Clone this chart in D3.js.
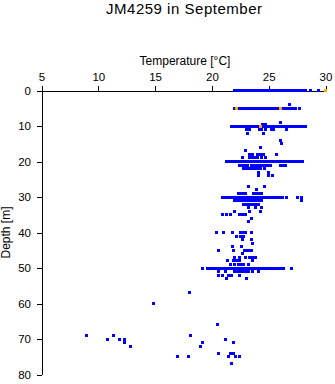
<!DOCTYPE html>
<html>
<head>
<meta charset="utf-8">
<script src="https://cdn.jsdelivr.net/npm/d3@7"></script>
<style>
  html, body { margin: 0; padding: 0; background: #fff; }
  svg { display: block; }
  text { font-family: "Liberation Sans", Arial, Helvetica, sans-serif; fill: #000; }
</style>
</head>
<body>
<div id="chart"></div>
<script>
// ---- data ----
const titleText = "JM4259 in September";
const xLabel = "Temperature [°C]";
const yLabel = "Depth [m]";
const xTicks = [5, 10, 15, 20, 25, 30];
const yTicks = [0, 10, 20, 30, 40, 50, 60, 70, 80];

// dense sampling rows (depth, temperatures read along each row)
const rowDepths = [0, 5, 10, 20, 30, 50];
const rowTemps = [
  [22.0,22.25,22.5,22.75,23.0,23.25,23.5,23.75,24.0,24.25,24.5,24.75,25.0,25.25,25.5,25.75,26.0,26.25,26.5,26.75,27.0,27.25,27.5,27.75,28.0,28.25,28.7,29.4],
  [22.0,22.25,22.5,22.75,23.0,23.25,23.5,23.75,24.0,24.25,24.5,24.75,25.0,25.25,25.5,25.75,26.0,26.25,26.5,26.75,27.0,27.25,27.4,27.7],
  [21.7,21.95,22.2,22.45,22.7,22.95,23.2,23.45,23.7,23.95,24.2,24.45,24.7,24.95,25.2,25.45,25.7,25.95,26.2,26.45,26.7,26.8,27.0,27.2,27.4,27.6,27.85,28.1,28.2],
  [21.3,21.55,21.8,22.05,22.3,22.55,22.8,23.05,23.3,23.55,23.8,24.05,24.3,24.55,24.8,25.05,25.3,25.55,25.8,26.05,26.3,26.55,26.8,27.05,27.3,27.4,27.6,27.85,28.0],
  [20.9,21.15,21.4,21.65,21.9,22.15,22.4,22.65,22.9,23.15,23.4,23.65,23.9,24.15,24.4,24.65,24.9,25.15,25.4,25.65,25.9,26.15,26.2,26.55,27.5,27.85],
  [19.2,19.6,19.85,20.1,20.35,20.6,20.8,21.05,21.3,21.55,21.8,22.05,22.3,22.55,22.8,23.05,23.3,23.55,23.8,24.05,24.3,24.55,24.8,25.05,25.3,25.55,25.8,26.05,26.3,27.0]
];

// scattered samples [temperature, depth]
const scatterPoints = [
  [26.8,4],
  [26.0,9],[24.45,9.5],[24.7,9.5],
  [23.05,11],[23.3,11],[24.15,11],[24.35,11],[24.7,11],[25.25,11],[25.45,11],[26.55,11],
  [23.1,12],[24.5,12],
  [26.0,14],[26.1,15],[24.3,16],[23.0,17],
  [23.3,18],[23.6,18],[24.0,18],[24.25,18],[24.5,18],[25.7,18],
  [22.7,19],[23.3,19],[23.55,19],[23.8,19],[24.05,19],[24.35,19],[24.75,19],
  [22.4,21],[22.65,21],[22.9,21],[23.1,21],[23.5,21],[23.75,21],[24.0,21],[24.25,21],[24.5,21],[24.75,21],[25.0,21],[25.2,21],[26.0,21],[26.25,21],[26.5,21],
  [22.8,22],[23.05,22],[23.3,22],[23.55,22],[23.8,22],[24.05,22],[24.3,22],[24.6,22],
  [24.1,23],[25.0,23],
  [24.1,24],[25.0,24],[25.3,24],
  [23.2,27],[24.6,27],
  [23.9,28],
  [22.3,29],[22.55,29],[22.8,29],[23.0,29],[23.7,29],[23.95,29],[24.2,29],[24.4,29],
  [22.0,31],[22.25,31],[22.4,31],[22.6,31],[22.85,31],[23.1,31],[23.35,31],[23.6,31],[23.85,31],[24.1,31],[24.4,31],[27.85,31],
  [22.8,32],[23.05,32],[23.3,32],[23.6,32],[23.85,32],[24.1,32],
  [23.2,33],[23.85,33],[24.4,33],
  [22.0,34],[23.3,34],[24.3,34],
  [20.9,35],[21.25,35],[21.6,35],[22.4,35],[22.7,35],[23.0,35],
  [23.5,36],[23.2,37],
  [20.4,40],[21.0,40],[21.8,40],[22.5,40],[22.75,40],[23.0,40],[23.5,40],
  [22.2,41],[22.5,41],[22.8,41],
  [22.7,42],[23.5,42],[23.6,43],
  [21.8,44],[22.6,44],
  [20.6,45],[21.9,45],[22.9,45],[23.15,45],[23.4,45],[23.5,45],
  [22.7,46],
  [22.0,47],[22.4,47],[23.0,47],[23.3,47],[23.55,47],[23.8,47],
  [21.4,48],[21.9,48],[22.15,48],[22.4,48],[23.6,48],
  [21.6,49],[22.0,49],[22.3,49],[22.55,49],[22.8,49],[23.2,49],
  [20.6,51],[21.2,51],[22.0,51],[22.25,51],[22.5,51],[22.75,51],[23.0,51],[23.2,51],[23.6,51],[24.1,51],
  [20.6,52],[20.9,52],[21.5,52],[21.7,52],[22.4,52],
  [21.3,53],[23.05,53],
  [18.0,57],[14.9,60],[20.5,66],
  [9.0,69],[11.35,69],[18.1,69],
  [10.85,70],[11.9,70],[12.3,70],[21.2,70],
  [12.3,71],[19.15,71],[21.9,71],
  [12.85,72],[19.0,72],
  [20.6,74],[21.6,74],[21.9,74],
  [17.0,75],[17.9,75],[21.5,75],[22.05,75],[22.4,75],
  [21.7,77]
];

// flagged samples drawn in orange [temperature, depth]
const flaggedPoints = [[30.0,0],[22.2,5],[26.0,5],[24.3,10]];

// ---- drawing ----
const W = 335, H = 384;
const svg = d3.select("#chart").append("svg").attr("width", W).attr("height", H);

const x = d3.scaleLinear().domain([5, 30]).range([41.5, 325.5]);
const y = d3.scaleLinear().domain([0, 80]).range([90.5, 374.5]);

// title
svg.append("text").attr("x", 184).attr("y", 13.5)
  .attr("text-anchor", "middle").style("font-size", "15px")
  .attr("textLength", 156).attr("lengthAdjust", "spacing")
  .text(titleText);

// x label
svg.append("text").attr("x", 185).attr("y", 64.5)
  .attr("text-anchor", "middle").style("font-size", "12px")
  .text(xLabel);

// y label
svg.append("text")
  .attr("transform", `translate(10,232.5) rotate(-90)`)
  .attr("text-anchor", "middle").style("font-size", "12px")
  .text(yLabel);

// axes
const xAxis = d3.axisTop(x).tickValues(xTicks).tickSizeInner(5).tickSizeOuter(0).tickPadding(5);
const gx = svg.append("g").attr("transform", "translate(0,90.5)").call(xAxis);
gx.select(".domain").attr("stroke", "#000").attr("shape-rendering", "crispEdges");
gx.selectAll(".tick line").attr("stroke", "#000").attr("shape-rendering", "crispEdges");
gx.selectAll(".tick text").style("font-size", "11.5px")
  .style("font-family", '"Liberation Sans", Arial, sans-serif').attr("fill", "#000");

const yAxis = d3.axisLeft(y).tickValues(yTicks).tickSizeInner(5).tickSizeOuter(0).tickPadding(5.5);
const gy = svg.append("g").attr("transform", "translate(41.5,0)").call(yAxis);
gy.select(".domain").attr("stroke", "#000").attr("shape-rendering", "crispEdges");
gy.selectAll(".tick line").attr("stroke", "#000").attr("shape-rendering", "crispEdges");
gy.selectAll(".tick text").style("font-size", "11.5px")
  .style("font-family", '"Liberation Sans", Arial, sans-serif').attr("fill", "#000");

// build blue point list from rows + scatter
const bluePoints = [];
rowDepths.forEach((d, i) => rowTemps[i].forEach(t => bluePoints.push([t, d])));
scatterPoints.forEach(p => bluePoints.push(p));

function drawPoints(data, color) {
  svg.append("g").selectAll("rect").data(data).join("rect")
    .attr("x", d => Math.round(x(d[0]) - 1.5))
    .attr("y", d => Math.round(y(d[1]) - 1.5))
    .attr("width", 3).attr("height", 3)
    .attr("fill", color)
    .attr("shape-rendering", "crispEdges");
}
drawPoints(bluePoints, "#0000ff");
drawPoints(flaggedPoints, "#ffa500");
</script>
</body>
</html>
